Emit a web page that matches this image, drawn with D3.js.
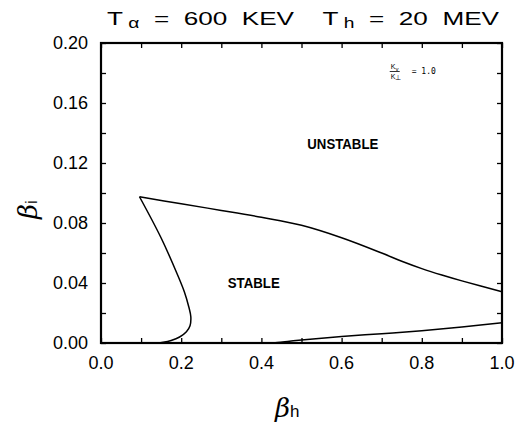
<!DOCTYPE html>
<html>
<head>
<meta charset="utf-8">
<script src="https://cdn.jsdelivr.net/npm/d3@7"></script>
<style>
  body { margin: 0; background: #fff; }
  text { font-family: "Liberation Sans", Arial, sans-serif; fill: #000; }
</style>
</head>
<body>
<div id="wrapper"></div>
<script>
// upper boundary, from the corner going right
const upperX = [0.096, 0.2, 0.3, 0.4, 0.5, 0.6, 0.7, 0.75, 0.8, 0.85, 0.9, 1.0]
const upperY = [0.0975, 0.0928, 0.0884, 0.0838, 0.0785, 0.0702, 0.0600, 0.0545, 0.0496, 0.0453, 0.0414, 0.0342]
// left boundary, from the corner going down to the axis
const leftX = [0.096, 0.15, 0.19, 0.208, 0.219, 0.224, 0.222, 0.213, 0.196, 0.175, 0.155, 0.138]
const leftY = [0.0975, 0.0700, 0.0460, 0.0340, 0.0240, 0.0175, 0.0115, 0.0075, 0.0040, 0.0017, 0.0005, 0.0]
// lower boundary
const lowerX = [0.41, 0.44, 0.47, 0.5, 0.6, 0.7, 0.8, 0.9, 1.0]
const lowerY = [0.0, 0.0003, 0.0012, 0.0020, 0.0043, 0.0062, 0.0082, 0.0107, 0.0135]

const xTicks = [0.0, 0.2, 0.4, 0.6, 0.8, 1.0]
const yTicks = [0.00, 0.04, 0.08, 0.12, 0.16, 0.20]
const xMinor = d3.range(0, 11).map(d => d / 10)
const yMinor = d3.range(0, 11).map(d => d / 50)

let dimensions = {
  width: 516,
  height: 428,
  margin: { top: 43, right: 14, bottom: 85, left: 101 },
}
dimensions.boundedWidth = dimensions.width - dimensions.margin.left - dimensions.margin.right
dimensions.boundedHeight = dimensions.height - dimensions.margin.top - dimensions.margin.bottom

const svg = d3.select("#wrapper")
  .append("svg")
    .attr("width", dimensions.width)
    .attr("height", dimensions.height)

const bounds = svg.append("g")
  .attr("transform", `translate(${dimensions.margin.left},${dimensions.margin.top})`)

const xScale = d3.scaleLinear().domain([0, 1]).range([0, dimensions.boundedWidth])
const yScale = d3.scaleLinear().domain([0, 0.2]).range([dimensions.boundedHeight, 0])

// inward ticks on all four sides
const tickLen = 5
bounds.append("g")
  .attr("transform", `translate(0,${dimensions.boundedHeight})`)
  .call(d3.axisBottom(xScale).tickValues(xMinor).tickSizeInner(-tickLen).tickSizeOuter(0).tickFormat(""))
bounds.append("g")
  .call(d3.axisTop(xScale).tickValues(xMinor).tickSizeInner(-tickLen).tickSizeOuter(0).tickFormat(""))
bounds.append("g")
  .call(d3.axisLeft(yScale).tickValues(yMinor).tickSizeInner(-tickLen).tickSizeOuter(0).tickFormat(""))
bounds.append("g")
  .attr("transform", `translate(${dimensions.boundedWidth},0)`)
  .call(d3.axisRight(yScale).tickValues(yMinor).tickSizeInner(-tickLen).tickSizeOuter(0).tickFormat(""))
bounds.selectAll(".domain").remove()
bounds.selectAll(".tick line").attr("stroke", "#000").attr("stroke-width", 1.3)

// frame
bounds.append("rect")
  .attr("width", dimensions.boundedWidth)
  .attr("height", dimensions.boundedHeight)
  .attr("fill", "none")
  .attr("stroke", "#000")
  .attr("stroke-width", 2.2)

// tick labels
bounds.selectAll(".xlab").data(xTicks).join("text")
  .attr("x", d => xScale(d))
  .attr("y", dimensions.boundedHeight + 26)
  .attr("text-anchor", "middle")
  .style("font-size", "18px")
  .text(d => d3.format(".1f")(d))
bounds.selectAll(".ylab").data(yTicks).join("text")
  .attr("x", -13)
  .attr("y", d => yScale(d) + 6)
  .attr("text-anchor", "end")
  .style("font-size", "18px")
  .text(d => d3.format(".2f")(d))

// curves
const line = d3.line()
  .x(d => xScale(d[0]))
  .y(d => yScale(d[1]))
  .curve(d3.curveCatmullRom.alpha(0.5))

const curves = [
  d3.zip(upperX, upperY),
  d3.zip(leftX, leftY),
  d3.zip(lowerX, lowerY),
]
bounds.selectAll(".curve").data(curves).join("path")
  .attr("d", line)
  .attr("fill", "none")
  .attr("stroke", "#000")
  .attr("stroke-width", 1.5)

// region labels
bounds.append("text")
  .attr("x", xScale(0.603)).attr("y", yScale(0.1295))
  .attr("text-anchor", "middle")
  .attr("textLength", 71)
  .attr("lengthAdjust", "spacingAndGlyphs")
  .style("font-size", "14px").style("font-weight", "bold")
  .text("UNSTABLE")
bounds.append("text")
  .attr("x", xScale(0.381)).attr("y", yScale(0.0365))
  .attr("text-anchor", "middle")
  .attr("textLength", 52)
  .attr("lengthAdjust", "spacingAndGlyphs")
  .style("font-size", "14px").style("font-weight", "bold")
  .text("STABLE")

// kappa ratio annotation
const ann = bounds.append("g")
  .attr("transform", `translate(${xScale(0.72)},${yScale(0.183)})`)
  .style("font-family", "'DejaVu Sans Mono', monospace")
ann.append("text").attr("x", 1).attr("y", 0).style("font-size", "7px")
  .text("K").append("tspan").attr("dy", 2).style("font-size", "6px").text("v")
ann.append("line").attr("x1", 0).attr("x2", 10).attr("y1", 3).attr("y2", 3)
  .attr("stroke", "#000").attr("stroke-width", 0.8)
ann.append("text").attr("x", 1).attr("y", 10).style("font-size", "7px")
  .text("K").append("tspan").attr("dy", 1).style("font-size", "7px").text("⊥")
ann.append("text").attr("x", 22).attr("y", 5).style("font-size", "8px")
  .style("font-family", "'DejaVu Sans Mono', monospace")
  .text("= 1.0")

// title
const title = svg.append("text")
  .attr("x", 107).attr("y", 25)
  .attr("textLength", 392)
  .attr("lengthAdjust", "spacingAndGlyphs")
  .style("font-size", "19px")
  .attr("xml:space", "preserve")
title.append("tspan").text("T")
title.append("tspan").attr("dy", 3).style("font-size", "14px").text(" α")
title.append("tspan").attr("dy", -3).text("  =  600  KEV    T")
title.append("tspan").attr("dy", 3).style("font-size", "14px").text(" h")
title.append("tspan").attr("dy", -3).text("  =  20  MEV")

// axis titles
const xTitle = svg.append("text")
  .attr("x", 275).attr("y", 417)
  .style("font-size", "26px").style("font-family", "'DejaVu Serif', serif").style("font-style", "italic")
xTitle.append("tspan").text("β")
xTitle.append("tspan").style("font-size", "17px").style("font-style", "normal")
  .style("font-family", "'Liberation Sans', sans-serif").text("h")

const yTitle = svg.append("text")
  .attr("transform", "translate(37,219) rotate(-90)")
  .style("font-size", "26px").style("font-family", "'DejaVu Serif', serif").style("font-style", "italic")
yTitle.append("tspan").text("β")
yTitle.append("tspan").style("font-size", "17px").style("font-style", "normal")
  .style("font-family", "'Liberation Sans', sans-serif").text("i")
</script>
</body>
</html>
